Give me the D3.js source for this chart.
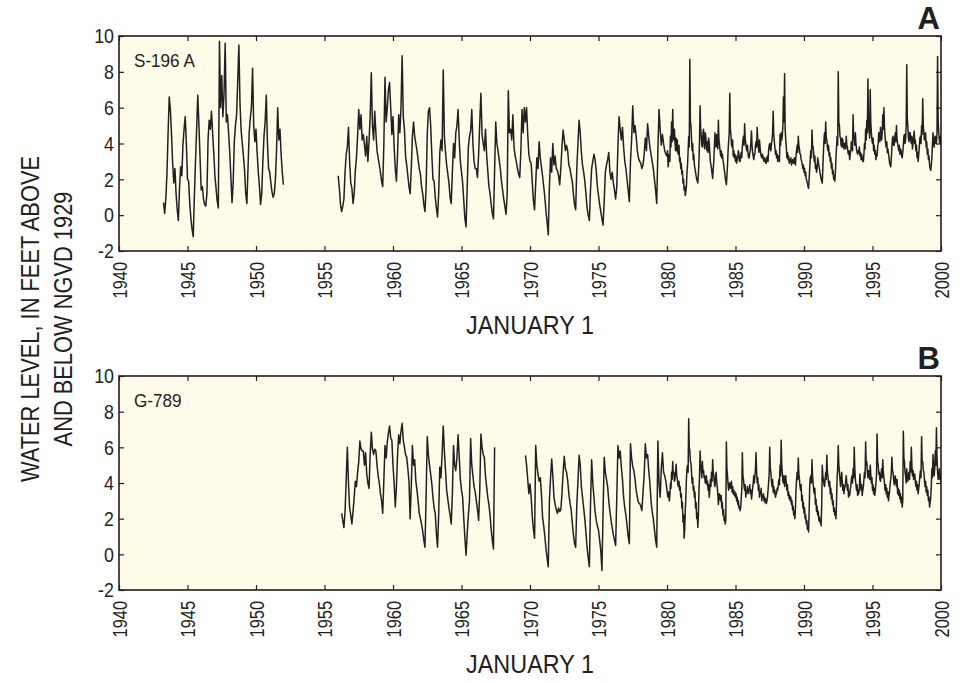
<!DOCTYPE html>
<html>
<head>
<meta charset="utf-8">
<script src="https://cdn.jsdelivr.net/npm/d3@7/dist/d3.min.js"></script>
<style>
  body { margin: 0; background: #fff; }
  text { font-family: "Liberation Sans", Arial, sans-serif; fill: #231f20; }
</style>
</head>
<body>
<svg class="chart" width="969" height="683"></svg>
<script>
var yearTicks = [1940, 1945, 1950, 1955, 1960, 1965, 1970, 1975, 1980, 1985, 1990, 1995, 2000];
var levelTicks = [-2, 0, 2, 4, 6, 8, 10];

// water levels, feet; monthly through 1979, twice a month from 1980
var a1Start = 1943.25;
var a1Levels = [
  0.7, 0.1, 0.9, 2.3, 4.6, 6.6, 5.9, 4.5, 2.9,
  1.8, 2.6, 1.2, 0.3, -0.3, 1.5, 2.7, 2.2, 3.9, 4.8, 5.5, 4.0,
  2.0, 1.9, 0.6, -0.2, -0.8, -1.2, 1.0, 3.0, 4.8, 6.7, 5.0, 3.2,
  1.4, 1.6, 0.9, 0.6, 0.5, 1.2, 4.2, 5.3, 4.8, 5.8, 4.6, 3.5,
  2.2, 1.5, 0.8, 0.4, 9.7, 6.0, 7.8, 5.5, 6.8, 9.6, 5.2, 5.6,
  4.6, 3.5, 2.1, 0.7, 1.8, 4.1, 5.0, 5.6, 7.5, 9.5, 6.2, 4.7,
  4.0, 3.3, 2.5, 1.2, 0.65, 2.6, 4.6, 5.4, 6.0, 8.2, 5.0, 4.1,
  4.8, 3.5, 2.4, 1.6, 0.6, 1.2, 3.0, 4.4, 5.2, 6.7, 4.1, 2.6,
  2.4, 1.8, 1.3, 1.0, 1.2, 2.0, 3.6, 6.0, 4.2, 4.8, 3.4, 2.4,
  1.7
];
var a2Start = 1956.0;
var a2Levels = [
  2.2, 1.5, 0.6, 0.2, 0.5, 0.9, 2.4, 3.4, 3.8, 4.9, 3.0, 1.8,
  1.5, 0.65, 1.2, 2.5, 3.2, 4.4, 5.9, 4.8, 5.6, 4.2, 4.5, 3.9,
  3.3, 4.4, 3.0, 4.1, 5.5, 7.95, 5.0, 4.2, 5.8, 4.6, 3.6, 3.2,
  2.8, 2.4, 1.9, 1.6, 4.0, 7.7, 5.2, 6.0, 7.0, 7.4, 6.0, 4.5,
  5.5, 3.8, 2.6, 1.9, 3.4, 5.6, 4.6, 6.0, 8.9, 5.5, 4.8, 3.3,
  2.8, 2.2, 1.6, 1.2, 2.6, 4.4, 5.2, 4.4, 4.0, 3.6, 3.1, 2.6,
  2.3, 1.6, 1.2, 0.6, 0.2, 1.5, 4.5, 5.8, 6.0, 5.0, 3.4, 2.0,
  1.9, 1.0, 0.4, -0.1, 1.2, 3.5, 4.2, 3.6, 8.1, 4.4, 3.5, 2.8,
  2.3, 1.8, 1.0, 0.65, 2.4, 4.0, 3.2, 4.6, 5.0, 5.9, 4.2, 3.0,
  2.4, 1.8, 0.8, -0.2, -0.65, 1.6, 3.8, 4.4, 4.7, 5.9, 4.0, 3.0,
  2.6, 2.6, 2.1, 3.4, 5.2, 6.8, 4.5, 4.0, 3.6, 4.8, 3.4, 2.5,
  1.6, 1.2, 0.6, 0.1, -0.2, 2.5, 5.2, 4.0, 3.6, 3.1, 2.6, 1.9,
  1.4, 0.9, 0.5, 0.05, 1.1, 6.95, 4.6, 4.8, 4.2, 5.6, 3.8, 3.3,
  3.0, 2.6, 2.3, 2.1, 3.6, 5.9, 4.6, 6.0, 5.2, 6.0, 4.5, 3.4,
  3.0, 2.9, 1.8, 0.8, 0.3, 1.8, 3.2, 2.6, 4.1, 3.2, 2.7, 2.2,
  1.6, 1.0, 0.2, -0.4, -1.1, 1.6, 3.2, 2.4, 4.0, 2.8, 3.3, 2.6,
  2.5, 2.2, 1.7, 2.6, 3.8, 4.75, 4.2, 3.6, 3.9, 3.6, 2.8, 2.6,
  2.2, 1.9, 1.2, 0.6, 0.3, 2.6, 4.0, 5.3, 4.6, 3.5, 2.8, 2.4,
  1.9, 1.2, 0.4, 0.0, -0.3, 1.4, 2.6, 3.0, 3.4, 3.1, 2.5, 1.6,
  1.1, 0.6, 0.2, -0.2, -0.55, 0.8, 2.4, 2.8, 3.1, 3.5, 2.4, 2.0,
  2.4, 1.8, 1.4, 0.9, 1.6, 3.8, 5.5, 4.8, 4.2, 4.9, 3.8, 3.0,
  2.6, 2.0, 1.4, 0.75, 3.0, 4.2, 6.1, 4.6, 5.0, 4.4, 3.6, 3.2,
  3.0, 2.9, 2.6, 2.8, 3.4, 4.3, 3.6, 5.1, 4.4, 3.8, 3.4, 3.0,
  2.6, 2.0, 1.4, 0.65, 3.6, 5.9, 4.8, 3.9, 4.5, 4.0, 3.6, 3.4
];
var a3Start = 1980.0;
var a3Levels = [
  3.3, 3.6, 2.7, 3.1, 3.4, 3.0, 4.4, 3.8, 5.2, 4.1, 5.9, 4.6, 4.2, 4.8, 4.1, 3.6, 4.3, 3.6, 4.2, 3.5, 3.4, 3.9, 3.0, 3.2,
  2.6, 2.9, 2.3, 2.5, 1.8, 2.0, 1.4, 1.6, 1.1, 1.3, 1.6, 2.4, 2.8, 3.6, 4.4, 3.8, 8.7, 5.2, 5.0, 4.2, 3.6, 4.0, 3.1, 3.4,
  2.8, 2.6, 2.4, 2.2, 2.0, 1.9, 1.8, 2.3, 3.0, 4.2, 6.1, 4.8, 4.4, 3.9, 3.8, 4.6, 4.8, 4.0, 3.7, 4.6, 4.4, 3.8, 3.6, 4.1,
  3.5, 4.3, 4.0, 3.5, 3.0, 2.8, 2.6, 2.3, 2.05, 2.6, 3.0, 3.8, 4.6, 4.0, 3.8, 4.5, 4.4, 3.7, 5.3, 4.2, 3.9, 3.6, 3.3, 3.6,
  3.2, 3.4, 3.1, 2.9, 2.6, 2.4, 2.1, 1.9, 1.7, 2.2, 2.8, 3.6, 4.1, 4.6, 6.8, 4.8, 4.5, 3.9, 3.8, 4.2, 3.3, 3.6, 3.2, 3.4,
  3.0, 3.3, 2.9, 3.1, 3.2, 3.6, 3.4, 3.0, 3.0, 3.3, 3.5, 3.2, 3.8, 4.2, 4.4, 3.9, 5.1, 4.3, 4.0, 3.7, 3.6, 3.9, 3.4, 3.2,
  3.2, 3.5, 3.6, 4.1, 4.7, 3.9, 3.5, 3.3, 3.1, 3.4, 3.4, 3.9, 4.1, 3.8, 4.9, 4.2, 3.8, 3.5, 4.2, 3.8, 3.5, 3.3, 3.2, 3.4,
  3.3, 3.1, 3.0, 3.2, 3.1, 2.9, 2.9, 3.2, 3.3, 3.0, 3.6, 3.9, 4.0, 3.7, 3.6, 4.0, 4.2, 4.6, 5.8, 4.5, 4.1, 3.8, 3.4, 3.6,
  3.2, 3.4, 3.0, 3.3, 3.2, 3.0, 4.5, 3.9, 4.6, 4.2, 4.4, 5.0, 6.6, 5.2, 7.9, 4.8, 4.2, 3.8, 3.2, 3.5, 3.1, 3.3, 2.9, 3.1,
  3.0, 3.2, 2.8, 3.0, 3.1, 2.9, 2.9, 3.2, 3.0, 2.8, 3.3, 3.6, 3.9, 3.5, 4.4, 3.9, 3.7, 3.4, 3.4, 3.1, 3.0, 2.8, 2.6, 2.8,
  2.4, 2.6, 2.2, 2.4, 2.0, 1.9, 1.8, 1.6, 1.5, 2.0, 2.6, 3.2, 3.6, 3.2, 4.75, 3.9, 3.8, 3.4, 3.0, 3.3, 2.6, 2.8, 2.4, 2.6,
  3.2, 3.0, 2.8, 2.6, 2.4, 2.2, 2.0, 1.9, 1.8, 2.6, 3.5, 4.2, 4.6, 4.0, 5.2, 4.3, 4.2, 3.8, 3.6, 3.9, 3.3, 3.5, 3.0, 3.2,
  2.6, 2.9, 2.3, 2.5, 2.0, 2.2, 1.9, 2.4, 3.2, 3.8, 4.4, 3.9, 8.0, 5.2, 5.0, 4.4, 4.3, 3.9, 3.8, 4.3, 4.2, 3.8, 3.7, 4.0,
  4.0, 3.7, 4.4, 3.9, 3.8, 3.5, 3.4, 3.6, 3.1, 3.4, 3.6, 4.1, 4.0, 3.6, 5.6, 4.4, 4.3, 3.9, 4.6, 4.0, 3.7, 3.5, 3.4, 3.6,
  3.5, 3.8, 3.3, 3.5, 3.1, 3.4, 3.2, 3.0, 3.0, 3.4, 4.0, 3.7, 4.8, 4.2, 5.3, 4.6, 7.6, 5.0, 4.8, 4.3, 7.0, 5.2, 4.6, 4.2,
  4.0, 4.3, 3.6, 3.9, 3.4, 3.6, 3.1, 3.4, 3.3, 3.8, 4.0, 4.6, 4.5, 4.1, 4.9, 4.4, 4.2, 4.6, 5.6, 4.8, 6.0, 4.9, 4.4, 4.0,
  3.8, 4.1, 3.5, 3.7, 3.4, 3.2, 2.9, 2.8, 2.7, 3.2, 3.8, 4.3, 4.4, 3.9, 3.9, 4.3, 4.6, 4.1, 5.0, 4.2, 4.0, 3.8, 3.6, 3.9,
  3.4, 3.7, 3.6, 3.3, 3.2, 3.5, 3.9, 4.4, 4.5, 4.0, 4.2, 5.0, 8.4, 5.4, 4.9, 4.3, 4.1, 4.6, 4.6, 4.2, 4.0, 4.4, 3.7, 4.0,
  4.3, 4.7, 4.0, 4.2, 3.6, 3.9, 3.2, 3.5, 3.0, 3.4, 3.8, 4.3, 4.4, 4.0, 5.0, 4.5, 6.5, 5.0, 4.6, 4.2, 4.2, 4.6, 3.8, 4.1,
  3.4, 3.7, 3.1, 3.3, 2.8, 2.6, 2.5, 2.8, 3.2, 3.9, 4.6, 4.2, 3.8, 4.3, 4.4, 4.0, 4.0, 4.6, 8.85, 5.4, 4.6, 4.2, 4.0, 4.4,
  3.9
];
var b1Start = 1956.25;
var b1Levels = [
  2.3, 1.9, 1.5, 2.4, 4.2, 6.0, 4.0, 2.6, 2.2,
  1.7, 2.4, 3.2, 4.1, 3.8, 4.6, 5.2, 6.35, 5.9, 5.8, 5.8, 5.0,
  5.7, 4.5, 4.0, 3.7, 5.6, 6.85, 5.9, 5.6, 5.9, 5.8, 5.0, 4.4,
  4.0, 3.4, 3.0, 2.3, 4.2, 6.1, 5.4, 6.3, 6.8, 7.2, 6.5, 6.4,
  5.0, 4.0, 2.65, 3.8, 5.6, 6.7, 6.2, 6.9, 7.35, 6.4, 6.0, 5.6,
  5.45, 4.8, 4.1, 2.0, 3.8, 6.1, 5.0, 5.3, 4.1, 3.6, 3.0, 2.3,
  2.0, 1.7, 1.3, 0.8, 0.4, 3.2, 6.6, 5.6, 5.0, 4.5, 3.95, 3.2,
  2.6, 2.3, 1.2, 0.4, 2.2, 4.9, 4.3, 5.6, 7.2, 5.8, 4.7, 3.6,
  3.1, 2.6, 2.2, 1.7, 3.4, 6.1, 5.0, 4.7, 5.4, 6.7, 5.5, 4.2,
  3.6, 3.2, 2.0, 0.9, -0.05, 1.2, 2.2, 3.0, 6.5, 5.0, 4.4, 3.8,
  3.5, 3.0, 2.5, 1.9, 3.6, 6.75, 6.0, 5.6, 5.45, 4.4, 3.8, 3.2,
  2.8, 2.2, 1.4, 0.8, 0.3, 6.0
];
var b2Start = 1969.667;
var b2Levels = [
  5.55, 5.0, 4.2, 3.4,
  3.95, 3.2, 2.1, 1.4, 0.9, 6.1, 5.0, 4.5, 4.1, 4.3, 3.4, 2.1,
  1.6, 1.0, 0.3, -0.2, -0.7, 3.0, 4.3, 5.35, 4.4, 3.2, 2.8, 2.5,
  2.3, 2.6, 2.4, 2.5, 3.4, 4.6, 5.5, 4.8, 4.6, 4.15, 3.4, 2.9,
  2.5, 1.8, 1.1, 0.6, 0.4, 2.8, 4.1, 5.55, 5.0, 3.8, 3.2, 2.6,
  2.0, 1.2, 0.4, -0.2, -0.7, 2.8, 5.3, 4.0, 3.2, 2.4, 1.9, 1.6,
  1.35, 0.8, 0.2, -0.9, 2.4, 5.45, 4.6, 4.2, 3.8, 3.0, 2.4, 1.9,
  1.5, 1.1, 0.8, 0.5, 3.2, 6.1, 5.4, 5.8, 4.9, 4.2, 3.2, 2.6,
  2.2, 1.6, 1.0, 0.6, 6.2, 5.4, 4.9, 4.7, 4.2, 3.6, 3.2, 2.9,
  2.85, 2.7, 2.45, 3.5, 4.4, 6.2, 5.4, 5.6, 4.7, 4.0, 3.0, 2.4,
  2.0, 1.4, 0.8, 0.4, 6.35, 4.0, 3.2, 4.8, 5.7, 4.6, 4.4, 4.1
];
var b3Start = 1980.0;
var b3Levels = [
  3.6, 3.3, 3.2, 3.5, 3.0, 3.3, 4.0, 3.7, 4.6, 4.2, 5.2, 4.5, 4.6, 4.1, 4.2, 4.6, 5.05, 4.4, 4.3, 3.9, 3.8, 4.1, 3.6, 3.8,
  3.2, 3.4, 2.6, 2.9, 1.8, 2.2, 0.9, 1.4, 2.4, 3.2, 4.2, 4.8, 5.0, 4.6, 7.6, 6.0, 5.8, 5.2, 5.1, 4.6, 4.0, 4.3, 3.6, 3.8,
  3.2, 3.5, 2.6, 2.9, 2.0, 2.3, 1.5, 2.2, 3.6, 4.4, 5.8, 5.0, 4.7, 4.3, 5.2, 4.6, 4.7, 4.3, 4.4, 4.0, 4.15, 4.4, 3.9, 4.1,
  3.6, 3.9, 3.2, 3.6, 4.2, 3.8, 4.6, 4.1, 5.3, 4.6, 4.4, 4.0, 3.8, 4.3, 4.6, 4.1, 3.8, 3.4, 2.8, 3.2, 3.4, 3.1, 3.0, 3.3,
  2.6, 2.9, 2.2, 2.5, 1.9, 2.1, 1.7, 1.9, 6.3, 4.8, 4.4, 3.9, 3.6, 4.0, 4.0, 3.7, 3.8, 4.1, 3.5, 3.8, 3.4, 3.6, 3.3, 3.5,
  3.2, 3.4, 3.0, 3.2, 2.8, 3.0, 2.6, 2.7, 2.45, 2.6, 3.1, 3.6, 5.7, 4.4, 4.2, 3.8, 3.6, 3.9, 3.2, 3.5, 3.5, 3.8, 3.4, 3.6,
  3.6, 3.9, 3.4, 3.6, 3.1, 3.4, 3.7, 4.0, 4.4, 4.0, 4.4, 4.8, 5.7, 4.6, 4.0, 4.3, 3.6, 3.9, 3.2, 3.5, 3.4, 3.7, 3.0, 3.3,
  3.2, 3.4, 3.0, 3.2, 2.9, 3.1, 2.85, 3.0, 3.2, 3.6, 4.0, 4.5, 6.0, 4.8, 4.6, 4.1, 3.8, 4.2, 3.5, 3.8, 3.4, 3.6, 3.2, 3.4,
  3.4, 3.7, 3.6, 3.9, 4.2, 3.9, 5.0, 4.4, 6.4, 5.0, 4.6, 4.1, 4.0, 4.4, 3.8, 4.1, 4.4, 4.0, 3.6, 3.9, 3.3, 3.5, 3.1, 3.3,
  3.0, 3.2, 2.8, 3.0, 2.5, 2.7, 2.2, 2.4, 2.0, 2.6, 3.6, 4.2, 4.6, 4.2, 5.4, 4.5, 4.2, 3.8, 3.6, 3.9, 3.0, 3.3, 2.6, 2.9,
  2.3, 2.6, 2.0, 2.2, 1.7, 1.9, 1.4, 1.6, 1.25, 2.4, 3.8, 4.3, 4.4, 4.0, 5.3, 4.4, 4.0, 3.6, 3.4, 3.7, 2.8, 3.1, 2.4, 2.7,
  2.2, 2.4, 1.9, 2.1, 1.8, 1.9, 1.6, 2.8, 5.0, 4.4, 4.2, 3.9, 3.8, 4.2, 4.6, 4.2, 5.55, 4.6, 4.4, 4.0, 3.8, 4.1, 3.4, 3.7,
  3.1, 3.4, 2.8, 3.0, 2.4, 2.6, 2.2, 2.4, 2.0, 3.0, 4.3, 4.8, 6.1, 5.0, 4.6, 4.2, 3.8, 4.2, 4.6, 4.1, 3.6, 3.9, 3.4, 3.7,
  3.8, 4.1, 4.4, 4.0, 3.6, 3.9, 3.2, 3.5, 3.3, 3.6, 3.8, 4.2, 4.4, 4.0, 4.8, 4.3, 6.0, 4.8, 4.2, 3.9, 3.6, 3.9, 3.3, 3.6,
  3.4, 3.7, 4.5, 4.0, 3.6, 3.9, 3.3, 3.6, 3.8, 4.2, 4.6, 4.3, 6.3, 5.0, 5.2, 4.6, 4.3, 4.7, 4.6, 4.2, 5.0, 4.5, 4.0, 4.3,
  3.6, 3.9, 3.4, 3.7, 3.3, 3.6, 4.0, 4.4, 6.75, 5.2, 5.0, 4.5, 4.6, 4.2, 4.1, 4.5, 4.8, 4.3, 5.3, 4.6, 4.3, 4.0, 3.6, 3.9,
  3.4, 3.7, 3.2, 3.5, 3.0, 3.3, 3.6, 4.0, 4.2, 4.6, 5.45, 4.7, 4.6, 4.2, 3.9, 4.3, 4.4, 4.0, 3.8, 4.2, 3.4, 3.7, 3.3, 3.6,
  3.1, 3.4, 2.9, 3.2, 2.65, 3.0, 6.9, 5.4, 5.2, 4.6, 4.4, 4.0, 4.8, 4.3, 4.1, 4.5, 4.6, 4.2, 5.2, 4.6, 6.0, 5.0, 4.4, 4.7,
  4.2, 4.5, 4.5, 4.1, 3.8, 4.1, 3.6, 3.9, 3.4, 3.7, 4.0, 4.4, 4.7, 4.3, 6.6, 5.2, 5.2, 4.7, 4.6, 4.2, 3.8, 4.1, 3.5, 3.8,
  3.3, 3.6, 3.0, 3.2, 2.65, 2.9, 3.2, 3.8, 4.8, 4.3, 5.6, 4.8, 4.4, 4.8, 5.8, 5.0, 7.1, 5.4, 4.6, 4.2, 4.4, 4.8, 4.2, 4.5,
  4.0
];

function toPoints(start, levels, perYear) {
  return levels.map(function(v, i) { return {t: start + i / perYear, v: v}; });
}

// squeeze text horizontally so it looks like the narrow face of the original
function condense(sel, k) {
  sel.each(function() {
    var w = this.getComputedTextLength();
    d3.select(this).attr("textLength", w * k).attr("lengthAdjust", "spacingAndGlyphs");
  });
}

var panels = [
  {id: "A", name: "S-196 A", top: 36, bottom: 251, segments: [
    toPoints(a1Start, a1Levels, 12),
    toPoints(a2Start, a2Levels, 12).concat(toPoints(a3Start, a3Levels, 24))
  ]},
  {id: "B", name: "G-789", top: 376, bottom: 590, segments: [
    toPoints(b1Start, b1Levels, 12),
    toPoints(b2Start, b2Levels, 12).concat(toPoints(b3Start, b3Levels, 24))
  ]}
];

var left = 119, right = 941;
var svg = d3.select(".chart");

var x = d3.scaleLinear().domain([1940, 2000]).range([left, right]);

panels.forEach(function(p) {
  var y = d3.scaleLinear().domain([-2, 10]).range([p.bottom, p.top]);
  var g = svg.append("g").attr("class", "panel-" + p.id);

  g.append("rect")
    .attr("x", left)
    .attr("y", p.top)
    .attr("width", right - left)
    .attr("height", p.bottom - p.top)
    .attr("fill", "#fefbe8");

  g.append("clipPath").attr("id", "clip-" + p.id)
    .append("rect")
    .attr("x", left).attr("y", p.top)
    .attr("width", right - left).attr("height", p.bottom - p.top);

  var line = d3.line()
    .x(function(d) { return x(d.t); })
    .y(function(d) { return y(d.v); });

  g.append("g").attr("clip-path", "url(#clip-" + p.id + ")")
    .selectAll(".series").data(p.segments)
    .enter().append("path")
    .attr("class", "series")
    .attr("d", line)
    .attr("fill", "none")
    .attr("stroke", "#231f20")
    .attr("stroke-width", 1.5)
    .attr("stroke-linejoin", "round");

  var bottomAxis = g.append("g")
    .attr("transform", "translate(0," + p.bottom + ")")
    .call(d3.axisBottom(x).tickValues(yearTicks).tickSizeInner(-5).tickSizeOuter(0).tickFormat(String));
  bottomAxis.selectAll("text")
    .attr("transform", "rotate(-90)")
    .attr("x", -11)
    .attr("y", 0)
    .attr("dy", "0.35em")
    .attr("text-anchor", "end")
    .attr("font-size", 20);

  g.append("g")
    .attr("transform", "translate(0," + p.top + ")")
    .call(d3.axisTop(x).tickValues(yearTicks).tickSizeInner(-5).tickSizeOuter(0).tickFormat(""));

  var leftAxis = g.append("g")
    .attr("transform", "translate(" + left + ",0)")
    .call(d3.axisLeft(y).tickValues(levelTicks).tickSizeInner(-5).tickSizeOuter(0).tickPadding(5).tickFormat(String));
  leftAxis.selectAll("text").attr("font-size", 21);

  g.append("g")
    .attr("transform", "translate(" + right + ",0)")
    .call(d3.axisRight(y).tickValues(levelTicks).tickSizeInner(-5).tickSizeOuter(0).tickFormat(""));

  g.selectAll(".domain").remove();
  g.selectAll(".tick line").attr("stroke", "#231f20").attr("stroke-width", 1.2);
  g.selectAll(".tick text").attr("fill", "#231f20").style("font-family", null);
  bottomAxis.selectAll("text").call(condense, 0.82);
  leftAxis.selectAll("text").call(condense, 0.85);

  g.append("rect")
    .attr("x", left)
    .attr("y", p.top)
    .attr("width", right - left)
    .attr("height", p.bottom - p.top)
    .attr("fill", "none")
    .attr("stroke", "#231f20")
    .attr("stroke-width", 1.6);

  g.append("text")
    .attr("x", left + 15)
    .attr("y", p.top + 31)
    .attr("font-size", 19)
    .text(p.name)
    .call(condense, 0.9);

  g.append("text")
    .attr("x", right - 1)
    .attr("y", p.top - 7)
    .attr("text-anchor", "end")
    .attr("font-size", 31)
    .attr("font-weight", "bold")
    .text(p.id);

  g.append("text")
    .attr("x", (left + right) / 2)
    .attr("y", p.bottom + 83)
    .attr("text-anchor", "middle")
    .attr("font-size", 26)
    .text("JANUARY 1")
    .call(condense, 0.9);
});

var titleLines = ["WATER LEVEL, IN FEET ABOVE", "AND BELOW NGVD 1929"];
svg.selectAll(".y-title").data(titleLines)
  .enter().append("text")
  .attr("class", "y-title")
  .attr("transform", function(d, i) { return "translate(" + (39 + i * 33) + ",319) rotate(-90)"; })
  .attr("text-anchor", "middle")
  .attr("font-size", 26)
  .text(function(d) { return d; })
  .call(condense, 0.84);
</script>
</body>
</html>
